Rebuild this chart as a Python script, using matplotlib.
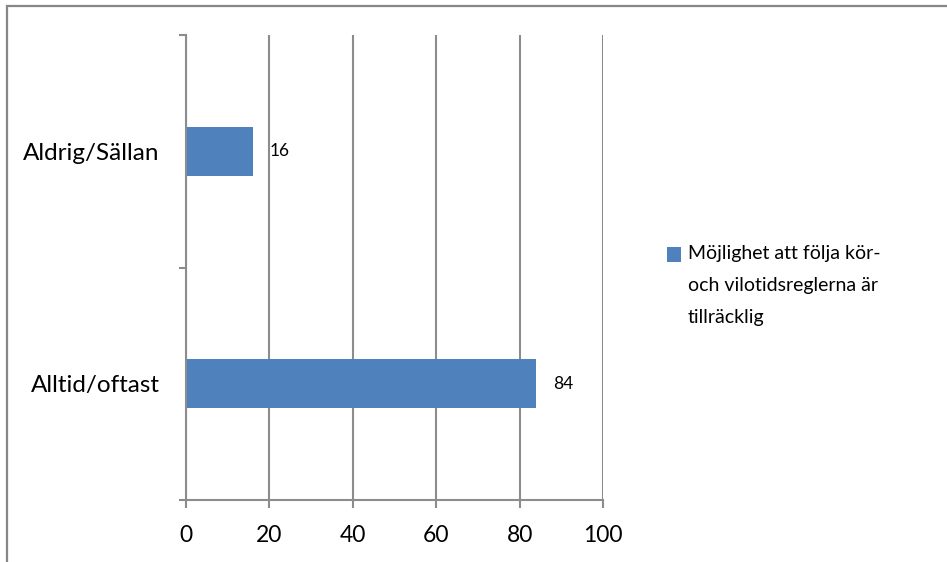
import matplotlib
matplotlib.use("Agg")
import matplotlib.pyplot as plt
from matplotlib.patches import Rectangle

plt.rcParams['font.family'] = ['Lato', 'DejaVu Sans']

categories = ["Alltid/oftast", "Aldrig/Sällan"]
values = [84, 16]
series_name = "Möjlighet att följa kör-\noch vilotidsreglerna är\ntillräcklig"
x_ticks = [0, 20, 40, 60, 80, 100]

W, H = 947, 562
fig = plt.figure(figsize=(W / 100, H / 100), dpi=100)

# outer chart frame
fig.patches.append(Rectangle((7 / W, -0.05), 1.1, 1 - 6 / H + 0.05,
                             transform=fig.transFigure, fill=False,
                             edgecolor="#878787", linewidth=1.6, zorder=0))

ax = fig.add_axes([186 / W, 1 - 500 / H, (603 - 186) / W, (500 - 35) / H])

grid_color = "#8c8c8c"
bar_color = "#4F81BD"

pos = [0.5, 1.5]
bars = ax.barh(pos, values, height=0.21, color=bar_color, zorder=3)

for p, v in zip(pos, values):
    ax.text(v + 4, p, f"{v}", va="center", ha="left", fontsize=12.5,
            color="#000000", zorder=4)

ax.set_xlim(0, 100)
ax.set_ylim(0, 2)
ax.set_xticks(x_ticks)
ax.set_xticklabels([str(t) for t in x_ticks], fontsize=16.5)
ax.set_yticks([0, 1, 2])
ax.set_yticklabels([])
ax.set_yticks(pos, minor=True)
ax.set_yticklabels(categories, minor=True, fontsize=17.5)
ax.tick_params(axis="y", which="minor", length=0, pad=19)
ax.tick_params(axis="y", which="major", length=5, width=1.5,
               color=grid_color, direction="out")
ax.tick_params(axis="x", length=6, width=1.5, color=grid_color,
               direction="out", pad=12)

ax.grid(axis="x", color=grid_color, linewidth=1.5, zorder=1)
for s in ["top", "right"]:
    ax.spines[s].set_visible(False)
for s in ["left", "bottom"]:
    ax.spines[s].set_color(grid_color)
    ax.spines[s].set_linewidth(1.5)
    ax.spines[s].set_zorder(5)

# legend: colour key beside the first line of the wrapped series name
fig.patches.append(Rectangle((667 / W, 1 - 262 / H), 14 / W, 15 / H,
                             transform=fig.transFigure, facecolor=bar_color,
                             edgecolor="none"))
for i, line in enumerate(series_name.split("\n")):
    fig.text(688 / W, 1 - (254 + 32 * i) / H, line, fontsize=14,
             va="center", ha="left")

fig.savefig("out.png", dpi=100)
